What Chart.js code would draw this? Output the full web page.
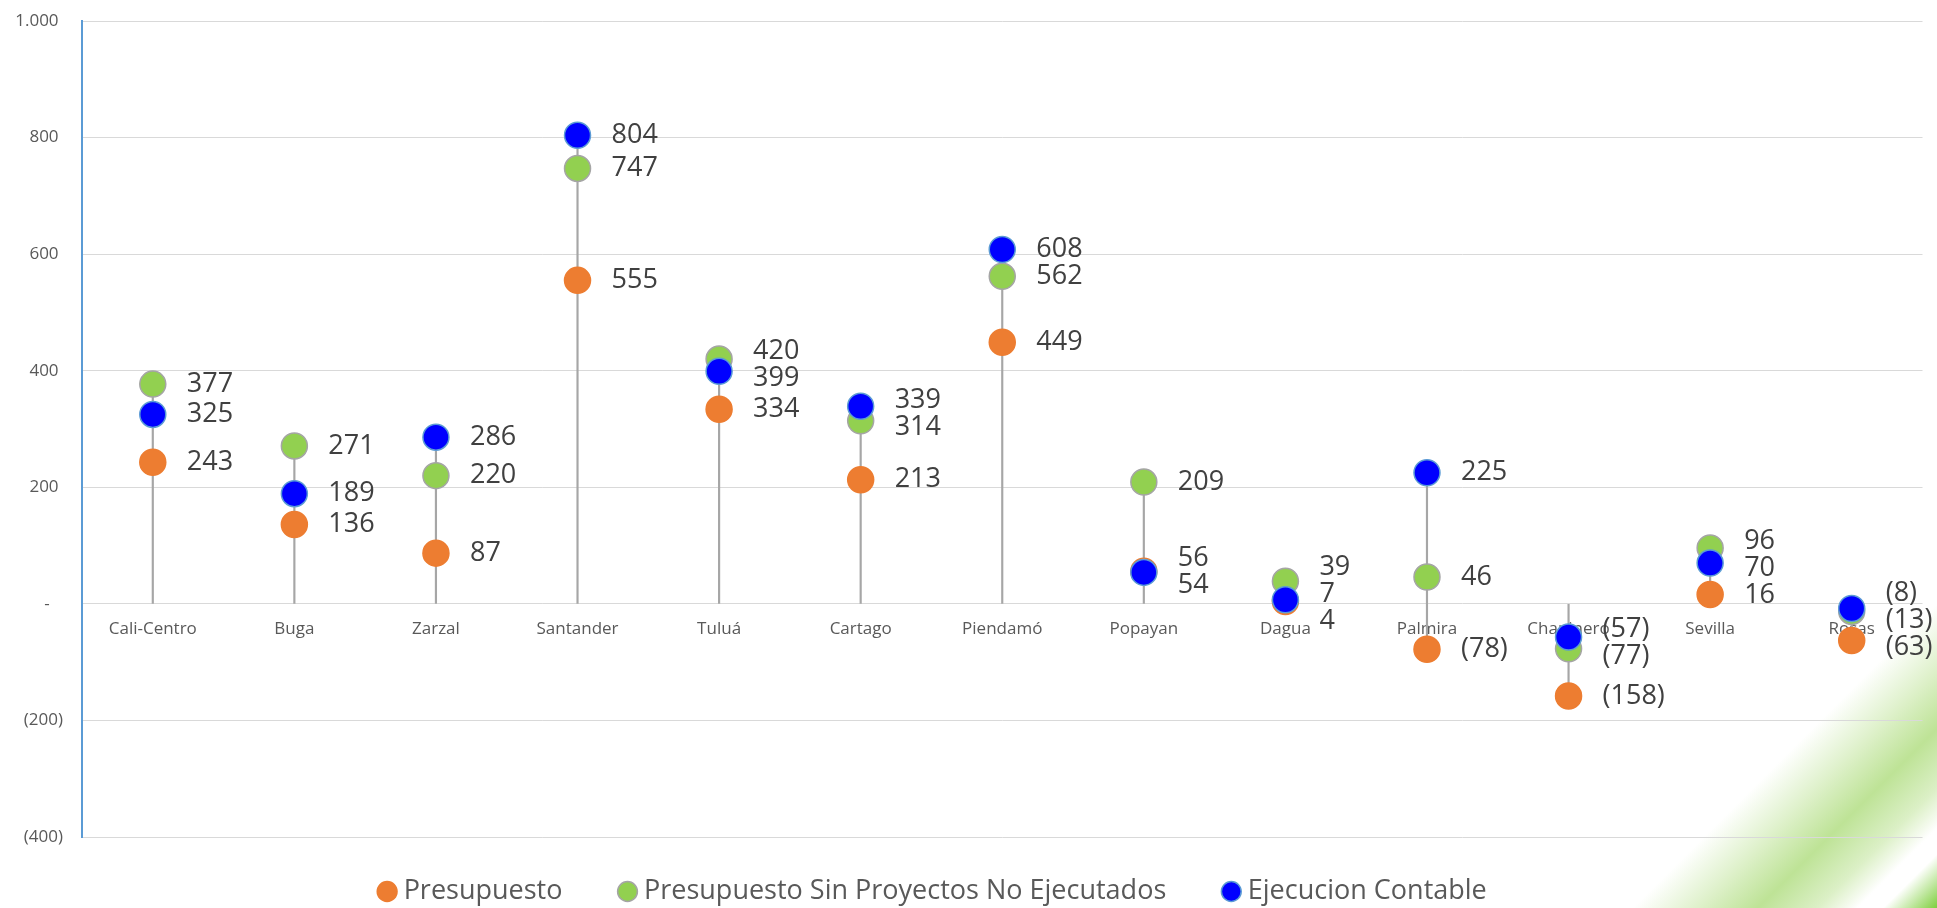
<!DOCTYPE html>
<html lang="es">
<head>
<meta charset="utf-8">
<title>Presupuesto vs Ejecución</title>
<script src="https://cdn.jsdelivr.net/npm/chart.js@4.4.0/dist/chart.umd.min.js"></script>
<style>
    html, body { margin: 0; padding: 0; overflow: hidden; }
    body {
        width: 1937px;
        height: 908px;
        /* franja verde decorativa de la esquina inferior derecha */
        background: linear-gradient(135deg,
            #ffffff 0%, #ffffff 89.3%,
            rgba(146, 208, 80, 0.28) 91.4%,
            rgba(146, 208, 80, 0.6) 93.7%,
            rgba(146, 208, 80, 0.32) 95.8%,
            #ffffff 97.2%, #ffffff 98.1%,
            #7fcf3e 100%);
    }
    #grafico { position: absolute; left: 0; top: 0; }
</style>
</head>
<body>
<canvas id="grafico" width="1937" height="908"></canvas>
<script>
const sedes = ['Cali-Centro', 'Buga', 'Zarzal', 'Santander', 'Tuluá', 'Cartago', 'Piendamó', 'Popayan', 'Dagua', 'Palmira', 'Chapinero', 'Sevilla', 'Rosas'];
const presupuesto = [243, 136, 87, 555, 334, 213, 449, 56, 4, -78, -158, 16, -63];
const presupuestoSinProyectos = [377, 271, 220, 747, 420, 314, 562, 209, 39, 46, -77, 96, -13];
const ejecucionContable = [325, 189, 286, 804, 399, 339, 608, 54, 7, 225, -57, 70, -8];

const ejeMin = -400;
const ejeMax = 1000;
const ejePaso = 200;

// lineas verticales desde el eje hasta el punto mas lejano de cada sede
const lineasGuia = sedes.map((_, i) => {
    const vals = [presupuesto[i], presupuestoSinProyectos[i], ejecucionContable[i]];
    return [Math.min(0, ...vals), Math.max(0, ...vals)];
});

function miles(n) {
    return String(n).replace(/\B(?=(\d{3})+(?!\d))/g, '.');
}

function formatoContable(v) {
    if (v === 0) return '-';
    return v < 0 ? '(' + miles(-v) + ')' : miles(v);
}

Chart.defaults.font.family = '"Open Sans", sans-serif';

const separacion = 27;

const etiquetasDatos = {
    id: 'etiquetasDatos',
    afterDatasetsDraw(chart) {
        const ctx = chart.ctx;
        const series = [0, 1, 2].map(i => ({ valores: chart.data.datasets[i].data, meta: chart.getDatasetMeta(i) }));
        ctx.save();
        ctx.font = '27px "Open Sans"';
        ctx.fillStyle = '#404040';
        ctx.textAlign = 'left';
        ctx.textBaseline = 'middle';
        sedes.forEach((_, i) => {
            const items = series.map(s => ({
                valor: s.valores[i],
                x: s.meta.data[i].x,
                y: s.meta.data[i].y
            }));
            items.sort((a, b) => a.y - b.y);
            // separar etiquetas que se pisan
            for (let pasada = 0; pasada < 30; pasada++) {
                for (let k = 1; k < items.length; k++) {
                    const d = items[k].y - items[k - 1].y;
                    if (d < separacion) {
                        const m = (separacion - d) / 2;
                        items[k - 1].y -= m;
                        items[k].y += m;
                    }
                }
            }
            items.forEach(it => ctx.fillText(formatoContable(it.valor), it.x + 34, it.y));
        });
        ctx.restore();
    }
};

const ctx = document.getElementById('grafico').getContext('2d');
new Chart(ctx, {
    type: 'line',
    data: {
        labels: sedes,
        datasets: [
            {
                label: 'Presupuesto',
                data: presupuesto,
                showLine: false,
                order: 3,
                pointRadius: 13,
                pointHoverRadius: 13,
                pointBorderWidth: 1.5,
                backgroundColor: '#ED7D31',
                borderColor: '#ED7D31'
            },
            {
                label: 'Presupuesto Sin Proyectos No Ejecutados',
                data: presupuestoSinProyectos,
                showLine: false,
                order: 2,
                pointRadius: 13,
                pointHoverRadius: 13,
                pointBorderWidth: 1.5,
                backgroundColor: '#92D050',
                borderColor: '#A5A5A5'
            },
            {
                label: 'Ejecucion Contable',
                data: ejecucionContable,
                showLine: false,
                order: 1,
                pointRadius: 13,
                pointHoverRadius: 13,
                pointBorderWidth: 1.5,
                backgroundColor: '#0000FF',
                borderColor: '#5B9BD5'
            },
            {
                type: 'bar',
                label: 'guia',
                data: lineasGuia,
                order: 4,
                barThickness: 1.5,
                backgroundColor: '#A6A6A6',
                borderWidth: 0
            }
        ]
    },
    options: {
        responsive: false,
        animation: false,
        events: [],
        layout: {
            padding: { left: 0, right: 10, top: 21, bottom: -7 }
        },
        scales: {
            x: {
                type: 'category',
                offset: true,
                position: { y: 0 },
                grid: { display: false },
                border: { display: false },
                ticks: {
                    autoSkip: false,
                    maxRotation: 0,
                    padding: 7,
                    color: '#595959',
                    font: { size: 17 }
                }
            },
            y: {
                min: ejeMin,
                max: ejeMax,
                afterFit(scale) {
                    scale.width = 82;
                    // que el padding de las etiquetas no empuje el area del grafico
                    scale.paddingTop = 10;
                    scale.paddingBottom = 10;
                },
                grid: { color: '#D9D9D9', lineWidth: 1, drawTicks: false },
                border: { color: '#5B9BD5', width: 2 },
                ticks: {
                    stepSize: ejePaso,
                    padding: 19,
                    color: '#595959',
                    font: { size: 17 },
                    callback: function (v) {
                        if (v === 0) return '-   ';
                        return v > 0 ? formatoContable(v) + ' ' : formatoContable(v);
                    }
                }
            }
        },
        plugins: {
            tooltip: { enabled: false },
            legend: {
                position: 'bottom',
                labels: {
                    usePointStyle: true,
                    boxWidth: 6,
                    boxHeight: 14,
                    padding: 41,
                    color: '#595959',
                    font: { size: 27 },
                    generateLabels(chart) {
                        const base = Chart.defaults.plugins.legend.labels.generateLabels(chart);
                        return base
                            .filter(item => item.datasetIndex < 3)
                            .sort((a, b) => a.datasetIndex - b.datasetIndex)
                            .map(item => {
                                item.text = item.text + (item.datasetIndex < 2 ? '   ' : '        ');
                                return item;
                            });
                    }
                }
            }
        }
    },
    plugins: [etiquetasDatos]
});
</script>
</body>
</html>
